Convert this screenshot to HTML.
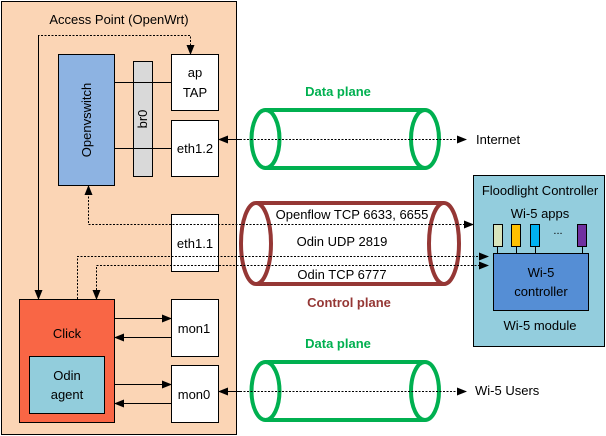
<!DOCTYPE html>
<html><head><style>body{margin:0;background:#fff}svg{display:block;font-family:"Liberation Sans",Arial,sans-serif}</style></head><body>
<svg width="606" height="436" viewBox="0 0 606 436" xmlns="http://www.w3.org/2000/svg">
<defs>
<marker id="a" markerWidth="10" markerHeight="8" refX="9" refY="4" orient="auto" markerUnits="userSpaceOnUse"><path d="M0,0 L10,4 L0,8 z" fill="#000"/></marker>
</defs>
<rect x="1.5" y="1.5" width="235" height="433" fill="#fbd5b5" stroke="#000"/>
<text x="119" y="24" font-size="13" text-anchor="middle">Access Point (OpenWrt)</text>
<rect x="58.5" y="54.5" width="56" height="131" fill="#8db3e2" stroke="#000"/>
<text transform="translate(91,120) rotate(-90)" font-size="13" text-anchor="middle">Openvswitch</text>
<rect x="133.5" y="61.5" width="19" height="115" fill="#d9d9d9" stroke="#000"/>
<text transform="translate(147,119) rotate(-90)" font-size="13" text-anchor="middle">br0</text>
<line x1="114" y1="82.5" x2="171" y2="82.5" stroke="#000"/>
<line x1="114" y1="148.5" x2="171" y2="148.5" stroke="#000"/>
<g fill="#fff" stroke="#000">
<rect x="171.5" y="54.5" width="47" height="56"/>
<rect x="171.5" y="120.5" width="47" height="56"/>
<rect x="171.5" y="214.5" width="47" height="57"/>
<rect x="171.5" y="299.5" width="47" height="57"/>
<rect x="171.5" y="365.5" width="47" height="57"/>
</g>
<g font-size="13" text-anchor="middle">
<text x="195" y="77">ap</text><text x="195" y="97">TAP</text>
<text x="195" y="153">eth1.2</text>
<text x="195" y="248">eth1.1</text>
<text x="194" y="333">mon1</text>
<text x="194" y="399">mon0</text>
</g>
<rect x="19.5" y="299.5" width="95" height="123" fill="#f96645" stroke="#000"/>
<text x="67" y="338" font-size="13" text-anchor="middle">Click</text>
<rect x="29.5" y="356.5" width="75" height="57" fill="#92cddc" stroke="#000"/>
<text x="67" y="380" font-size="13" text-anchor="middle">Odin</text>
<text x="67" y="399" font-size="13" text-anchor="middle">agent</text>
<g stroke="#000" marker-end="url(#a)">
<line x1="114" y1="318.5" x2="171" y2="318.5"/>
<line x1="171" y1="337.5" x2="115" y2="337.5"/>
<line x1="114" y1="384.5" x2="171" y2="384.5"/>
<line x1="171" y1="403.5" x2="115" y2="403.5"/>
</g>
<g fill="none" stroke="#00b050" stroke-width="4">
<line x1="265" y1="110" x2="425" y2="110"/><line x1="265" y1="168" x2="425" y2="168"/>
<ellipse cx="265.5" cy="139" rx="14" ry="29"/><ellipse cx="425" cy="139" rx="14" ry="29"/>
<line x1="265" y1="362" x2="425" y2="362"/><line x1="265" y1="420" x2="425" y2="420"/>
<ellipse cx="265.5" cy="391" rx="14" ry="29"/><ellipse cx="425" cy="391" rx="14" ry="29"/>
</g>
<g fill="none" stroke="#953735" stroke-width="4">
<line x1="256" y1="203" x2="444" y2="203"/><line x1="256" y1="284" x2="444" y2="284"/>
<ellipse cx="256" cy="243.5" rx="15" ry="40.5"/><ellipse cx="444" cy="243.5" rx="15" ry="40.5"/>
</g>
<g font-size="13" text-anchor="middle">
<text x="352" y="219">Openflow TCP 6633, 6655</text>
<text x="342" y="246">Odin UDP 2819</text>
<text x="342" y="279">Odin TCP 6777</text>
</g>
<text x="338" y="96" font-size="13" font-weight="bold" fill="#00b050" text-anchor="middle">Data plane</text>
<text x="338" y="348" font-size="13" font-weight="bold" fill="#00b050" text-anchor="middle">Data plane</text>
<text x="349" y="307" font-size="13" font-weight="bold" fill="#953735" text-anchor="middle">Control plane</text>
<text x="476" y="144" font-size="13">Internet</text>
<text x="475" y="395" font-size="13">Wi-5 Users</text>
<rect x="473.5" y="175.5" width="131" height="171" fill="#93cddd" stroke="#000"/>
<text x="540" y="195" font-size="13" text-anchor="middle">Floodlight Controller</text>
<text x="540" y="218" font-size="13" text-anchor="middle">Wi-5 apps</text>
<g stroke="#000"><line x1="497.5" y1="247" x2="497.5" y2="254"/><line x1="516.5" y1="247" x2="516.5" y2="254"/><line x1="535.5" y1="247" x2="535.5" y2="254"/><line x1="582.5" y1="247" x2="582.5" y2="254"/></g>
<rect x="493.5" y="224.5" width="9" height="22" fill="#d8e4bc" stroke="#000"/>
<rect x="511.5" y="224.5" width="9" height="22" fill="#ffc000" stroke="#000"/>
<rect x="530.5" y="224.5" width="9" height="22" fill="#00b0f0" stroke="#000"/>
<rect x="577.5" y="224.5" width="9" height="22" fill="#7030a0" stroke="#000"/>
<text x="558" y="234" font-size="11" text-anchor="middle">...</text>
<rect x="493.5" y="253.5" width="95" height="57" fill="#558ed5" stroke="#000"/>
<text x="541" y="277" font-size="13" text-anchor="middle">Wi-5</text>
<text x="541" y="296" font-size="13" text-anchor="middle">controller</text>
<text x="540" y="330" font-size="13" text-anchor="middle">Wi-5 module</text>
<g stroke="#000" stroke-dasharray="2,1.5" fill="none" marker-end="url(#a)">
<polyline points="38.5,299 38.5,35.5 190.5,35.5 190.5,54"/>
<polyline points="38.5,36 38.5,299"/>
<polyline points="472,224.5 88.5,224.5 88.5,186"/>
<line x1="88.5" y1="224.5" x2="473" y2="224.5"/>
<polyline points="77.5,299 77.5,256.5 488,256.5"/>
<polyline points="487,265.5 96.5,265.5 96.5,299"/>
<line x1="96.5" y1="265.5" x2="488" y2="265.5"/>
<line x1="240" y1="139.5" x2="219" y2="139.5"/>
<line x1="219" y1="139.5" x2="466" y2="139.5"/>
<line x1="240" y1="391.5" x2="219" y2="391.5"/>
<line x1="219" y1="391.5" x2="466" y2="391.5"/>
</g>
</svg>
</body></html>
